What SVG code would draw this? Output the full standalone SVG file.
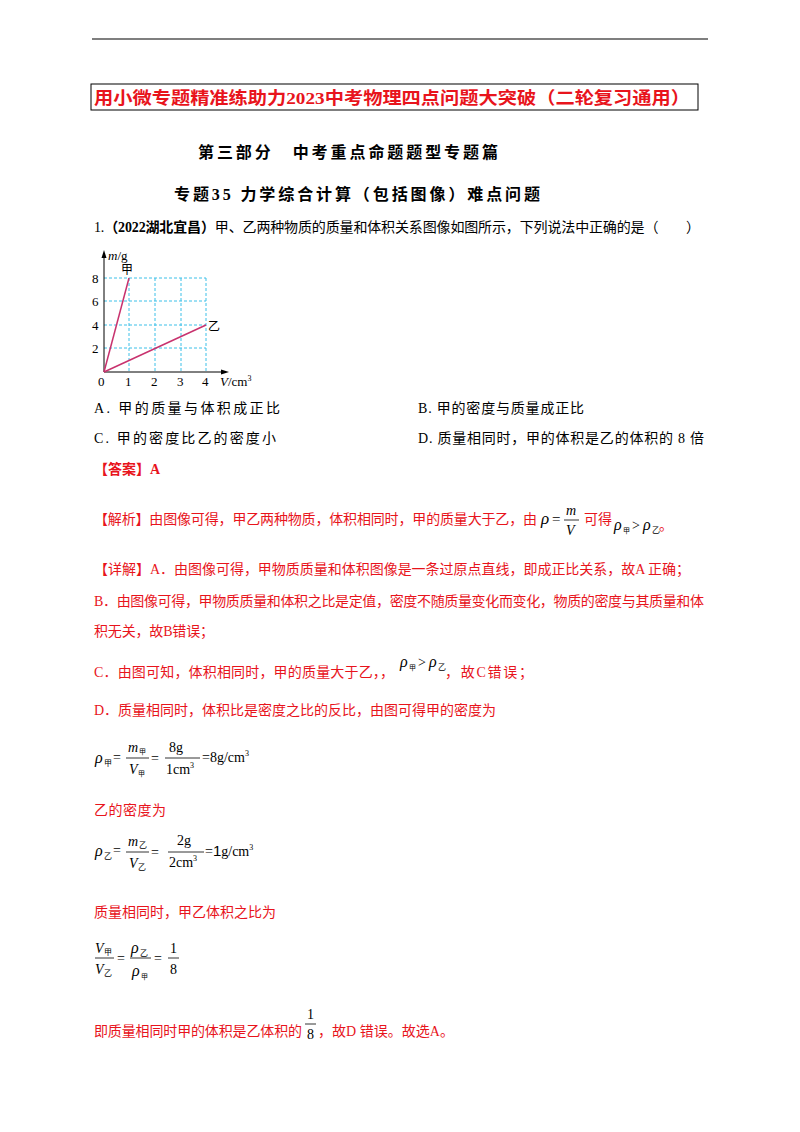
<svg xmlns="http://www.w3.org/2000/svg" width="800" height="1132" viewBox="0 0 800 1132">
<style>
text{font-family:"Liberation Serif","Noto Sans CJK SC",serif;font-size:14px;fill:#000}
.r{fill:#e8141c}
.b{font-weight:bold}
.i{font-style:italic}
.g{stroke:#3cc0e8;stroke-width:1;stroke-dasharray:3,2;fill:none}
.f{stroke:#000;stroke-width:0.8}
</style>
<rect width="800" height="1132" fill="#fff"/>
<line x1="92" y1="39" x2="708" y2="39" stroke="#000" stroke-width="1.2"/>
<rect x="91" y="84" width="607" height="26" fill="none" stroke="#000" stroke-width="1"/>
<text x="94" y="104" class="r b" style="font-size:17.5px" textLength="596" lengthAdjust="spacingAndGlyphs">用小微专题精准练助力2023中考物理四点问题大突破（二轮复习通用）</text>
<text x="198" y="158" class="b" style="font-size:16px" textLength="300">第三部分　中考重点命题题型专题篇</text>
<text x="174" y="200" class="b" style="font-size:16px" textLength="366">专题35 力学综合计算（包括图像）难点问题</text>
<text x="94" y="232" textLength="606">1.<tspan class="b">（2022湖北宜昌）</tspan>甲、乙两种物质的质量和体积关系图像如图所示，下列说法中正确的是（　　）</text>
<g id="graph">
<path class="g" d="M104 278H206M104 301H206M104 325H206M104 348H206M129 278V372M155 278V372M181 278V372M206 278V372"/>
<line x1="104" y1="372" x2="104" y2="253" stroke="#000"/>
<polygon points="104,250 101.5,258 106.5,258"/>
<line x1="104" y1="372" x2="225" y2="372" stroke="#000"/>
<polygon points="229,372 221,369.5 221,374.5"/>
<line x1="104" y1="372" x2="129" y2="278" stroke="#c8326e" stroke-width="1.5"/>
<line x1="104" y1="372" x2="206" y2="325" stroke="#c8326e" stroke-width="1.5"/>
<text x="108" y="260" style="font-size:13px"><tspan class="i">m</tspan>/g</text>
<text x="121" y="274" style="font-size:12px">甲</text>
<text x="208" y="331" style="font-size:12px">乙</text>
<text x="92" y="283" style="font-size:13px">8</text>
<text x="92" y="306" style="font-size:13px">6</text>
<text x="92" y="330" style="font-size:13px">4</text>
<text x="92" y="353" style="font-size:13px">2</text>
<text x="98" y="386" style="font-size:13px">0</text>
<text x="125" y="386" style="font-size:13px">1</text>
<text x="151" y="386" style="font-size:13px">2</text>
<text x="177" y="386" style="font-size:13px">3</text>
<text x="202" y="386" style="font-size:13px">4</text>
<text x="220" y="386" style="font-size:13px"><tspan class="i">V</tspan>/cm<tspan dy="-5" style="font-size:8px">3</tspan></text>
</g>
<text x="94" y="413" textLength="186">A.  甲的质量与体积成正比</text>
<text x="418" y="413" textLength="166">B.  甲的密度与质量成正比</text>
<text x="94" y="443" textLength="182">C.  甲的密度比乙的密度小</text>
<text x="418" y="443" textLength="286">D.  质量相同时，甲的体积是乙的体积的 8 倍</text>
<text x="94" y="474" class="r b">【答案】A</text>
<text x="94" y="524" class="r" textLength="443">【解析】由图像可得，甲乙两种物质，体积相同时，甲的质量大于乙，由</text>
<text x="541" y="524" class="i" style="font-size:17px">ρ</text><text x="552" y="524" style="font-size:15px">=</text>
<text x="566" y="515" class="i">m</text><line class="f" x1="564" y1="520" x2="579" y2="520"/><text x="566" y="535" class="i">V</text>
<text x="584" y="524" class="r">可得</text>
<text x="614" y="530" class="i" style="font-size:16px">ρ</text><text x="623" y="533" style="font-size:7px">甲</text>
<text x="632" y="530">&gt;</text><text x="643" y="530" class="i" style="font-size:16px">ρ</text><text x="652" y="533" style="font-size:8px">乙</text><text x="659" y="530" class="r">。</text>
<text x="94" y="574" class="r" textLength="596">【详解】A．由图像可得，甲物质质量和体积图像是一条过原点直线，即成正比关系，故A 正确；</text>
<text x="94" y="606" class="r" textLength="610">B．由图像可得，甲物质质量和体积之比是定值，密度不随质量变化而变化，物质的密度与其质量和体</text>
<text x="94" y="636" class="r" textLength="120">积无关，故B错误；</text>
<text x="94" y="677" class="r" textLength="300">C．由图可知，体积相同时，甲的质量大于乙，，</text>
<text x="400" y="667" class="i" style="font-size:16px">ρ</text><text x="409" y="670" style="font-size:7px">甲</text>
<text x="418" y="667">&gt;</text><text x="429" y="667" class="i" style="font-size:16px">ρ</text><text x="438" y="670" style="font-size:8px">乙</text>
<text x="445" y="677" class="r" textLength="88">，故C错误；</text>
<text x="94" y="715" class="r" textLength="402">D．质量相同时，体积比是密度之比的反比，由图可得甲的密度为</text>
<g id="f1">
<text x="95" y="763" class="i" style="font-size:16px">ρ</text><text x="104" y="766" style="font-size:8px">甲</text>
<text x="113" y="762">=</text>
<text x="128" y="752" class="i">m</text><text x="139" y="754" style="font-size:7px">甲</text>
<line class="f" x1="126" y1="758" x2="149" y2="758"/>
<text x="129" y="774" class="i">V</text><text x="138" y="776" style="font-size:7px">甲</text>
<text x="151" y="763">=</text>
<text x="169" y="752">8g</text>
<line class="f" x1="165" y1="758" x2="200" y2="758"/>
<text x="166" y="774">1cm<tspan dy="-6" style="font-size:8px">3</tspan></text>
<text x="202" y="762">=8g/cm<tspan dy="-6" style="font-size:8px">3</tspan></text>
</g>
<text x="94" y="815" class="r" textLength="72">乙的密度为</text>
<g id="f2">
<text x="95" y="856" class="i" style="font-size:16px">ρ</text><text x="104" y="859" style="font-size:8px">乙</text>
<text x="113" y="855">=</text>
<text x="128" y="846" class="i">m</text><text x="139" y="848" style="font-size:8px">乙</text>
<line class="f" x1="126" y1="852" x2="149" y2="852"/>
<text x="129" y="868" class="i">V</text><text x="138" y="870" style="font-size:8px">乙</text>
<text x="151" y="857">=</text>
<text x="177" y="845">2g</text>
<line class="f" x1="168" y1="852" x2="204" y2="852"/>
<text x="169" y="867">2cm<tspan dy="-6" style="font-size:8px">3</tspan></text>
<text x="205" y="856">=<tspan font-family="Liberation Sans" font-size="15px">1</tspan>g/cm<tspan dy="-6" style="font-size:8px">3</tspan></text>
</g>
<text x="94" y="917" class="r" textLength="182">质量相同时，甲乙体积之比为</text>
<g id="f3">
<text x="95" y="953" class="i">V</text><text x="104" y="955" style="font-size:8px">甲</text>
<line class="f" x1="95" y1="958" x2="114" y2="958"/>
<text x="95" y="974" class="i">V</text><text x="104" y="976" style="font-size:8px">乙</text>
<text x="117" y="963">=</text>
<text x="131" y="953" class="i" style="font-size:16px">ρ</text><text x="140" y="956" style="font-size:8px">乙</text>
<line class="f" x1="130" y1="958" x2="151" y2="958"/>
<text x="132" y="976" class="i" style="font-size:16px">ρ</text><text x="141" y="979" style="font-size:7px">甲</text>
<text x="154" y="963">=</text>
<text x="170" y="953">1</text>
<line class="f" x1="168" y1="958" x2="179" y2="958"/>
<text x="170" y="974">8</text>
</g>
<text x="307" y="1019">1</text>
<line class="f" x1="305" y1="1024" x2="316" y2="1024"/>
<text x="307" y="1039">8</text>
<text x="94" y="1036" class="r" textLength="208">即质量相同时甲的体积是乙体积的</text>
<text x="318" y="1036" class="r" textLength="136">，故D 错误。故选A。</text>
</svg>
